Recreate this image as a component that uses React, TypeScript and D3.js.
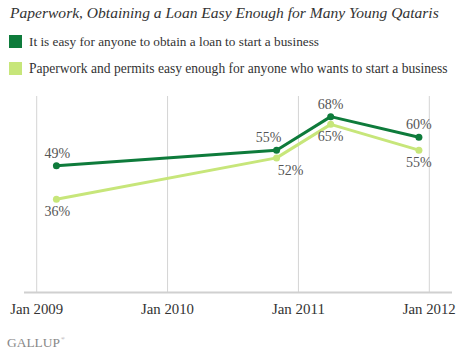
import { useEffect, useRef } from 'react';
import * as d3 from 'd3';

const title = 'Paperwork, Obtaining a Loan Easy Enough for Many Young Qataris';
const seriesNames = [
  'It is easy for anyone to obtain a loan to start a business',
  'Paperwork and permits easy enough for anyone who wants to start a business',
];
const surveyDates = ['2009-02-25', '2010-11-01', '2011-04-01', '2011-12-03'];
const loanValues = [49, 55, 68, 60];
const paperworkValues = [36, 52, 65, 55];
const tickDates = ['2009-01-01', '2010-01-01', '2011-01-01', '2012-01-01'];
const colors = ['#0e7b3b', '#c7e67a'];

// scale font size so a text fills the width seen in the picture
const fit = (sel: any, w: number) => {
  const node = sel.node() as SVGTextElement | null;
  if (!node) return;
  const cur = node.getComputedTextLength();
  const size = parseFloat(sel.style('font-size'));
  if (cur > 0) sel.style('font-size', `${(size * w) / cur}px`);
};

const App = () => {
  const ref = useRef<SVGSVGElement | null>(null);

  useEffect(() => {
    if (!ref.current) return;
    const width = 464;
    const height = 354;
    const svg = d3.select(ref.current).attr('width', width).attr('height', height);
    svg.selectAll('*').remove();

    const font = 'Liberation Serif, DejaVu Serif, serif';
    const parse = d3.timeParse('%Y-%m-%d');
    const dates = surveyDates.map(d => parse(d) as Date);
    const ticks = tickDates.map(d => parse(d) as Date);

    const x = d3.scaleTime().domain([ticks[0], ticks[3]]).range([36.7, 429.3]);
    const y = d3.scaleLinear().domain([0, 76]).range([292, 96]);

    const txt = (parent: any, size: number, fill: string) =>
      parent.append('text')
        .style('font-family', font)
        .style('font-size', `${size}px`)
        .attr('fill', fill);

    // title
    const t = txt(svg, 15, '#333')
      .attr('x', 10).attr('y', 18)
      .style('font-style', 'italic')
      .text(title);
    fit(t, 429);

    // legend
    const legendWidths = [290, 419];
    seriesNames.forEach((name, i) => {
      const g = svg.append('g').attr('transform', `translate(9,${35 + i * 27})`);
      g.append('rect').attr('width', 13).attr('height', 13).attr('fill', colors[i]);
      const lt = txt(g, 13, '#333').attr('x', 20).attr('y', 11).text(name);
      fit(lt, legendWidths[i]);
    });

    // grid
    svg.append('g')
      .selectAll('line')
      .data(ticks)
      .join('line')
      .attr('x1', d => x(d)).attr('x2', d => x(d))
      .attr('y1', 96).attr('y2', 292)
      .attr('stroke', '#d4d4d4').attr('stroke-width', 1);

    svg.append('line')
      .attr('x1', 24).attr('x2', 452)
      .attr('y1', 292.5).attr('y2', 292.5)
      .attr('stroke', '#d0d0d0').attr('stroke-width', 2);

    ticks.forEach(d => {
      const lab = txt(svg, 14, '#333')
        .attr('x', x(d) - 26.5).attr('y', 314)
        .text(d3.timeFormat('%b %Y')(d));
      fit(lab, 53);
    });

    const line = d3.line<number>()
      .x((_, i) => x(dates[i]))
      .y(d => y(d));

    const series = [loanValues, paperworkValues];
    // light first so the dark line sits on top
    [1, 0].forEach(s => {
      svg.append('path')
        .datum(series[s])
        .attr('d', line)
        .attr('fill', 'none')
        .attr('stroke', colors[s])
        .attr('stroke-width', 3)
        .attr('stroke-linejoin', 'round');
      svg.append('g')
        .selectAll('circle')
        .data(series[s])
        .join('circle')
        .attr('cx', (_, i) => x(dates[i]))
        .attr('cy', d => y(d))
        .attr('r', 3.5)
        .attr('fill', colors[s]);
    });

    // value labels: dark above, light below
    const darkDx = [1, -8, 0, 0];
    const lightDx = [1, 14, 0, 0];
    loanValues.forEach((v, i) => {
      txt(svg, 14, '#555')
        .attr('x', x(dates[i]) + darkDx[i]).attr('y', y(v) - 8)
        .attr('text-anchor', 'middle')
        .text(`${v}%`);
    });
    paperworkValues.forEach((v, i) => {
      txt(svg, 14, '#555')
        .attr('x', x(dates[i]) + lightDx[i]).attr('y', y(v) + 17)
        .attr('text-anchor', 'middle')
        .text(`${v}%`);
    });

    const logo = txt(svg, 12, '#888').attr('x', 7).attr('y', 347).text('GALLUP');
    fit(logo, 53);
    txt(svg, 5, '#888').attr('x', 61).attr('y', 340).text('®');
  }, []);

  return (
    <svg ref={ref} style={{ position: 'absolute', left: 0, top: 0 }} />
  );
};

export default App;
